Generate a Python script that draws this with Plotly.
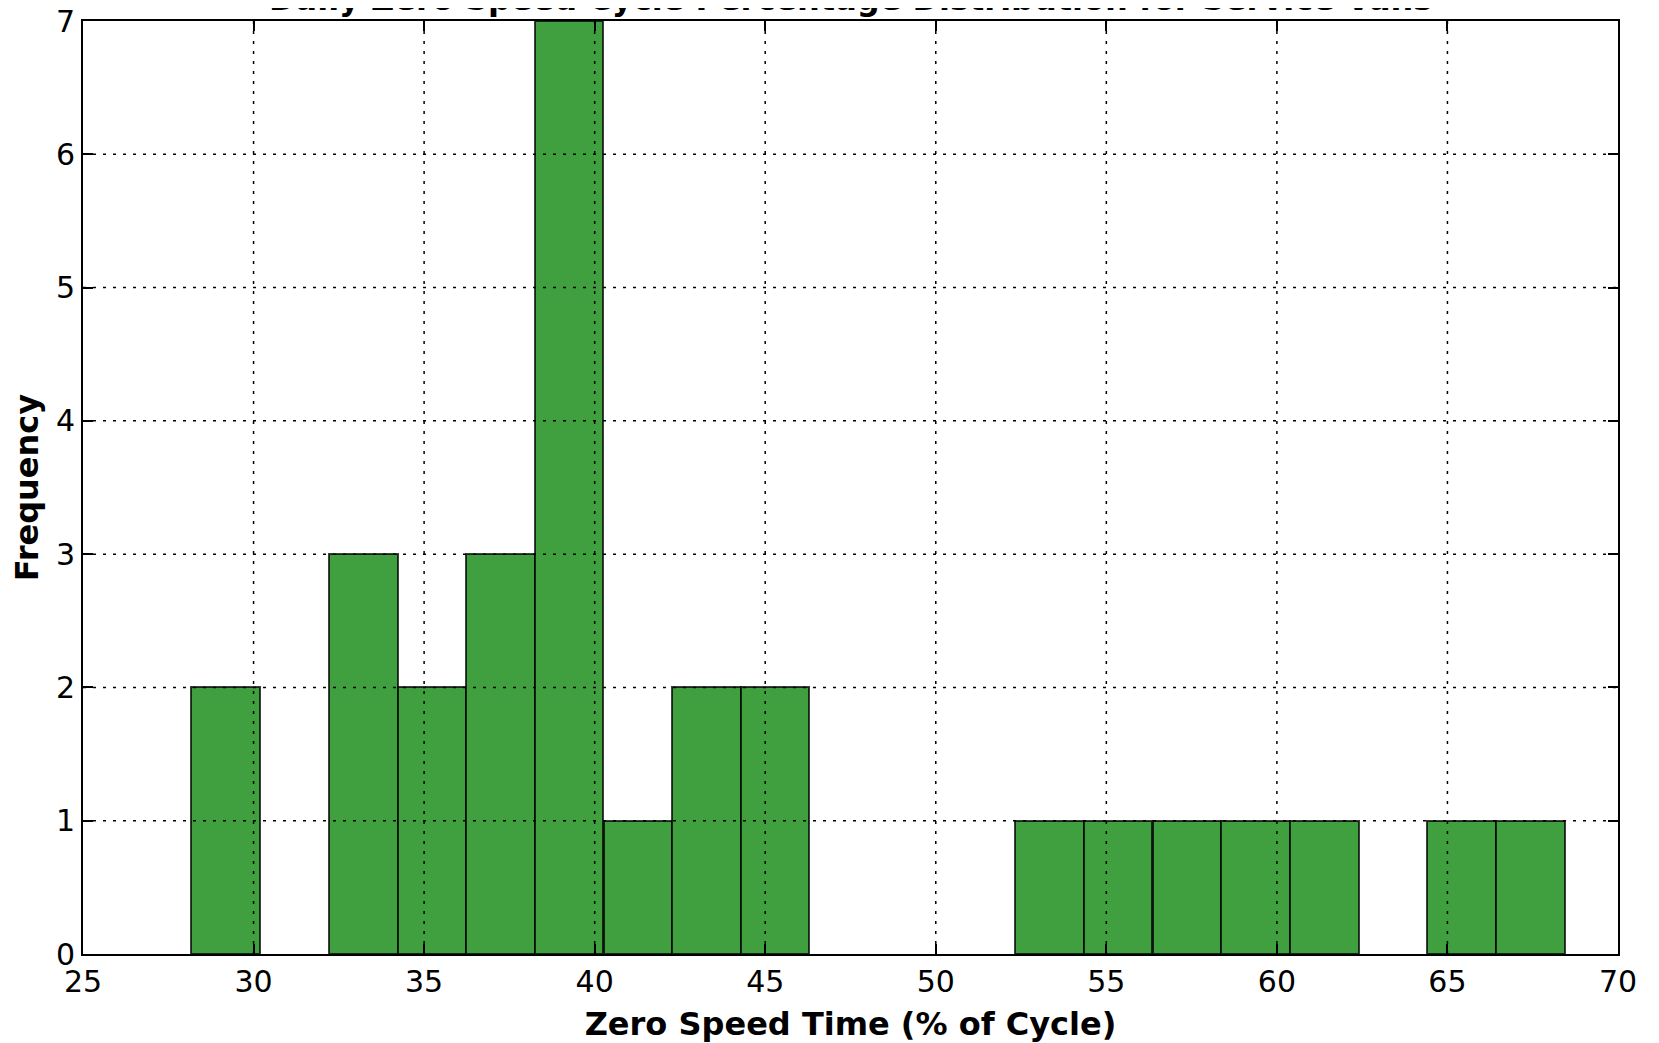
import plotly.graph_objects as go

# ---- data ----
bin_left = [28.18, 30.19, 32.21, 34.22, 36.23, 38.24, 40.26, 42.27, 44.28, 46.29,
            48.31, 50.32, 52.33, 54.34, 56.36, 58.37, 60.38, 62.39, 64.40, 66.42]
bin_width = 2.0125
counts = [2, 0, 3, 2, 3, 7, 1, 2, 2, 0, 0, 0, 1, 1, 1, 1, 1, 0, 1, 1]

x_ticks = [25, 30, 35, 40, 45, 50, 55, 60, 65, 70]
y_ticks = [0, 1, 2, 3, 4, 5, 6, 7]

title_text = "Daily Zero Speed Cycle Percentage Distribution for Service Vans"
x_title = "Zero Speed Time (% of Cycle)"
y_title = "Frequency"

FONT = "DejaVu Sans"

xs = [b for b, c in zip(bin_left, counts) if c > 0]
ys = [c for c in counts if c > 0]

fig = go.Figure()
fig.add_trace(go.Bar(
    x=xs, y=ys, width=bin_width, offset=0,
    marker=dict(color="#40A040", line=dict(color="rgba(0,0,0,0.75)", width=2)),
    showlegend=False, hoverinfo="skip",
))

grid_style = dict(color="black", width=1.5, dash="3px,7px")
shapes = []
for t in x_ticks[1:-1]:
    shapes.append(dict(type="line", xref="x", yref="paper", x0=t, x1=t, y0=0, y1=1,
                       line=grid_style, layer="above"))
for t in y_ticks[1:-1]:
    shapes.append(dict(type="line", xref="paper", yref="y", x0=0, x1=1, y0=t, y1=t,
                       line=grid_style, layer="above"))

axis_common = dict(
    showgrid=False, zeroline=False, showline=True, linecolor="black", linewidth=2,
    mirror="allticks", ticks="inside", ticklen=10, tickwidth=1.5, tickcolor="black",
    layer="above traces", automargin=False, ticklabeloverflow="allow",
    tickfont=dict(family=FONT, size=30, color="black"),
)

# page body adds an 8px offset, so the figure is sized/margined to compensate
fig.update_layout(
    width=1651, height=1035,
    margin=dict(l=75, r=41, t=13, b=89, autoexpand=False),
    plot_bgcolor="white", paper_bgcolor="white",
    bargap=0,
    shapes=shapes,
    xaxis=dict(range=[25, 70], tickvals=x_ticks, ticktext=[str(v) for v in x_ticks],
               title=dict(text="<b>" + x_title + "</b>", standoff=16,
                          font=dict(family=FONT, size=32, color="black")),
               **axis_common),
    yaxis=dict(range=[0, 7], tickvals=y_ticks, ticktext=[str(v) for v in y_ticks],
               title=dict(text="<b>" + y_title + "</b>", standoff=10,
                          font=dict(family=FONT, size=32, color="black")),
               **axis_common),
    annotations=[dict(text="<b>" + title_text + "</b>", xref="paper", yref="paper",
                      x=0.5, y=1, xanchor="center", yanchor="bottom", yshift=1,
                      showarrow=False, font=dict(family=FONT, size=32, color="black"))],
)

fig.write_html("out.html")
